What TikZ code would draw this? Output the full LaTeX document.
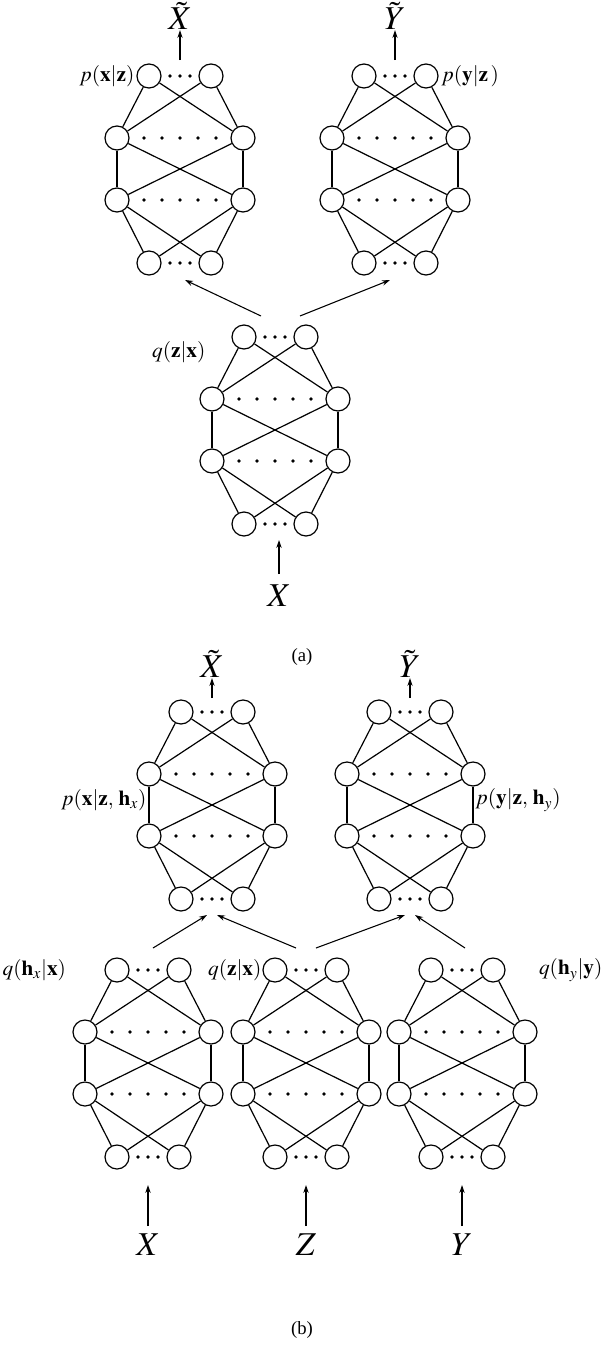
\documentclass[tikz,border=0pt]{standalone}
\usepackage{mathptmx}
\usepackage{fontspec}
\setmainfont{Liberation Serif}
\newdimen\pxu \pxu=0.75pt
\usetikzlibrary{arrows.meta,backgrounds}
\tikzset{
  neuron/.style={circle,draw,line width=0.9pt,minimum size=24\pxu,inner sep=0pt,fill=white},
  lbl/.style={font=\fontsize{16}{18}\selectfont,inner sep=1pt},
  big/.style={font=\fontsize{25}{27}\selectfont,inner sep=0pt},
  captxt/.style={font=\fontsize{14}{16}\selectfont},
  arr/.style={-{Stealth[length=6pt,width=4pt]},line width=0.8pt},
  dot/.style={fill,circle,inner sep=0pt,minimum size=3.6\pxu}
}
\newcommand{\mynet}[3]{% name, cx, top y
  \node[neuron] (#1t1) at (#2-31,#3) {};
  \node[neuron] (#1t2) at (#2+31,#3) {};
  \node[neuron] (#1m1) at (#2-63,#3+62) {};
  \node[neuron] (#1m2) at (#2+63,#3+62) {};
  \node[neuron] (#1n1) at (#2-63,#3+124) {};
  \node[neuron] (#1n2) at (#2+63,#3+124) {};
  \node[neuron] (#1b1) at (#2-31,#3+187) {};
  \node[neuron] (#1b2) at (#2+31,#3+187) {};
  \begin{scope}[on background layer]
  \foreach \a/\b in {t/m,m/n,n/b}{
    \foreach \i in {1,2}{\foreach \j in {1,2}{\draw[line width=0.9pt] (#1\a\i)--(#1\b\j);}}}
  \end{scope}
  \foreach \d in {-10,0,10}{\node[dot] at (#2+\d,#3) {}; \node[dot] at (#2+\d,#3+187) {};}
  \foreach \d in {-36,-18,0,18,36}{\node[dot] at (#2+\d,#3+62) {}; \node[dot] at (#2+\d,#3+124) {};}
}
\begin{document}
\begin{tikzpicture}[x=0.75pt,y=-0.75pt]
\useasboundingbox (0,0) rectangle (604,1356);
% (a)
\mynet{A}{180}{76}
\mynet{B}{395}{76}
\mynet{C}{275}{337}
\node[big] (xt) at (180,16) {$\tilde{X}$};
\node[big] (yt) at (395,16) {$\tilde{Y}$};
\coordinate (xa) at (180,60); \coordinate (ya) at (395,60);
\draw[arr] (xa) -- (xt);
\draw[arr] (ya) -- (yt);
\node[big] (xin) at (279,596) {$X$};
\coordinate (xina) at (279,540); \coordinate (xinb) at (279,574);
\draw[arr] (xinb) -- (xina);
\coordinate (c1) at (261,316); \coordinate (c2) at (300,316);
\coordinate (a1) at (185,280); \coordinate (b1) at (390,280);
\draw[arr] (c1) -- (a1);
\draw[arr] (c2) -- (b1);
\node[lbl,anchor=east] (la) at (136,76) {$p(\mathbf{x}|\mathbf{z})$};
\node[lbl,anchor=west] (lb) at (440,76) {$p(\mathbf{y}|\mathbf{z}\,)$};
\node[lbl,anchor=east] (lc) at (207,352) {$q(\mathbf{z}|\mathbf{x})$};
\node[captxt] (capa) at (302,657) {(a)};
% (b)
\mynet{D}{212}{712}
\mynet{E}{410}{712}
\mynet{F}{148}{970}
\mynet{G}{306}{970}
\mynet{H}{462}{970}
\node[big] (xt2) at (212,664) {$\tilde{X}$};
\node[big] (yt2) at (410,664) {$\tilde{Y}$};
\coordinate (d0) at (212,698); \coordinate (e0) at (410,698);
\draw[arr] (d0) -- (xt2);
\draw[arr] (e0) -- (yt2);
\coordinate (f1) at (153,948); \coordinate (g1) at (296,948);
\coordinate (g2) at (316,948); \coordinate (h1) at (465,948);
\coordinate (d1) at (207,915); \coordinate (d2) at (217,915);
\coordinate (e1) at (405,915); \coordinate (e2) at (415,915);
\draw[arr] (f1) -- (d1);
\draw[arr] (g1) -- (d2);
\draw[arr] (g2) -- (e1);
\draw[arr] (h1) -- (e2);
\node[big] (xb) at (148,1245) {$X$};
\node[big] (zb) at (306,1245) {$Z$};
\node[big] (yb) at (462,1245) {$Y$};
\coordinate (xb1) at (148,1226); \coordinate (xb2) at (148,1185);
\coordinate (zb1) at (306,1226); \coordinate (zb2) at (306,1185);
\coordinate (yb1) at (462,1226); \coordinate (yb2) at (462,1185);
\draw[arr] (xb1) -- (xb2);
\draw[arr] (zb1) -- (zb2);
\draw[arr] (yb1) -- (yb2);
\node[lbl,anchor=east] at (148,800) {$p(\mathbf{x}|\mathbf{z},\,\mathbf{h}_x)$};
\node[lbl,anchor=west] at (474,800) {$p(\mathbf{y}|\mathbf{z},\,\mathbf{h}_y)$};
\node[lbl,anchor=west] at (1,970) {$q(\mathbf{h}_x|\mathbf{x})$};
\node[lbl,anchor=east] at (263,970) {$q(\mathbf{z}|\mathbf{x})$};
\node[lbl,anchor=east] at (604,970) {$q(\mathbf{h}_y|\mathbf{y})$};
\node[captxt] (capb) at (302,1330) {(b)};
\end{tikzpicture}
\end{document}
